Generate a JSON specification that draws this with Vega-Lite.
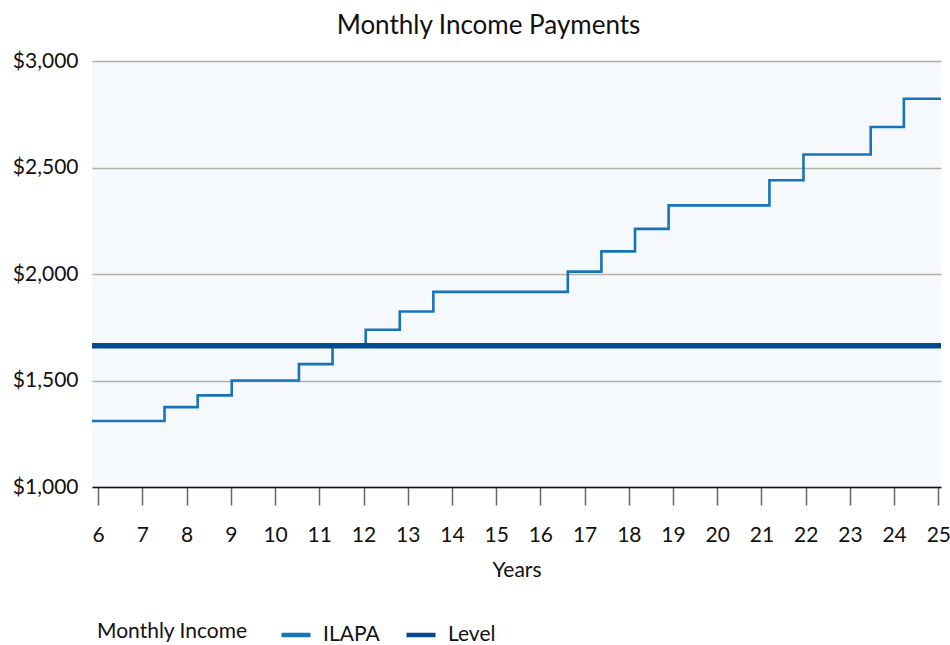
{
  "$schema": "https://vega.github.io/schema/vega-lite/v6.json",
  "width": 849,
  "height": 426,
  "autosize": {"type": "none"},
  "padding": {"left": 92, "top": 61, "right": 9, "bottom": 158},
  "background": "white",
  "config": {
    "font": "Lato",
    "view": {"fill": "#f5f9fc", "stroke": null}
  },
  "title": {
    "text": "Monthly Income Payments",
    "fontSize": 26,
    "fontWeight": "normal",
    "font": "Lato",
    "color": "#111",
    "dx": -28,
    "offset": 11
  },
  "datasets": {
    "ilapa": [
      {"year": 5.86, "income": 1310, "series": "ILAPA"},
      {"year": 7.5, "income": 1375, "series": "ILAPA"},
      {"year": 8.25, "income": 1430, "series": "ILAPA"},
      {"year": 9.02, "income": 1500, "series": "ILAPA"},
      {"year": 10.54, "income": 1577, "series": "ILAPA"},
      {"year": 11.3, "income": 1660, "series": "ILAPA"},
      {"year": 12.05, "income": 1738, "series": "ILAPA"},
      {"year": 12.82, "income": 1824, "series": "ILAPA"},
      {"year": 13.58, "income": 1916, "series": "ILAPA"},
      {"year": 16.62, "income": 2011, "series": "ILAPA"},
      {"year": 17.38, "income": 2106, "series": "ILAPA"},
      {"year": 18.14, "income": 2212, "series": "ILAPA"},
      {"year": 18.9, "income": 2322, "series": "ILAPA"},
      {"year": 21.18, "income": 2440, "series": "ILAPA"},
      {"year": 21.95, "income": 2561, "series": "ILAPA"},
      {"year": 23.47, "income": 2690, "series": "ILAPA"},
      {"year": 24.22, "income": 2823, "series": "ILAPA"},
      {"year": 25.06, "income": 2823, "series": "ILAPA"}
    ],
    "level": [
      {"year": 5.86, "income": 1663, "series": "Level"},
      {"year": 25.06, "income": 1663, "series": "Level"}
    ]
  },
  "encoding": {
    "x": {
      "field": "year",
      "type": "quantitative",
      "title": "Years",
      "scale": {"domain": [5.86, 25.06], "nice": false, "zero": false},
      "axis": {
        "values": [6,7,8,9,10,11,12,13,14,15,16,17,18,19,20,21,22,23,24,25],
        "grid": false,
        "domainColor": "#111",
        "domainWidth": 1.5,
        "tickColor": "#666",
        "tickWidth": 1.5,
        "tickSize": 18,
        "labelFontSize": 21,
        "labelColor": "#111",
        "labelPadding": 19,
        "labelFont": "Lato",
        "titleFont": "Lato",
        "titleFontSize": 21,
        "titleFontWeight": "normal",
        "titleColor": "#111",
        "titlePadding": 14
      }
    },
    "y": {
      "field": "income",
      "type": "quantitative",
      "title": null,
      "scale": {"domain": [1000, 3000], "nice": false, "zero": false},
      "axis": {
        "values": [1000, 1500, 2000, 2500, 3000],
        "format": "$,.0f",
        "grid": true,
        "gridColor": "#b3afa7",
        "gridWidth": 1.5,
        "domain": false,
        "ticks": false,
        "labelFontSize": 21,
        "labelColor": "#111",
        "labelPadding": 14,
        "labelFont": "Lato"
      }
    },
    "color": {
      "field": "series",
      "type": "nominal",
      "title": "Monthly Income",
      "scale": {"domain": ["ILAPA", "Level"], "range": ["#1874b8", "#004b8d"]},
      "legend": {
        "orient": "none",
        "direction": "horizontal",
        "legendX": 5,
        "legendY": 557,
        "titleOrient": "left",
        "titleBaseline": "middle",
        "titleFontSize": 21,
        "titleFontWeight": "normal",
        "titleColor": "#111",
        "titleFont": "Lato",
        "titlePadding": 31,
        "labelFontSize": 21,
        "labelColor": "#111",
        "labelFont": "Lato",
        "labelOffset": 10,
        "symbolType": "stroke",
        "symbolSize": 841,
        "symbolStrokeWidth": 4.5,
        "columnPadding": 17,
        "padding": 0
      }
    }
  },
  "layer": [
    {
      "data": {"name": "ilapa"},
      "mark": {"type": "line", "interpolate": "step-after", "strokeWidth": 2.6}
    },
    {
      "data": {"name": "level"},
      "mark": {"type": "line", "strokeWidth": 5.5}
    }
  ]
}
